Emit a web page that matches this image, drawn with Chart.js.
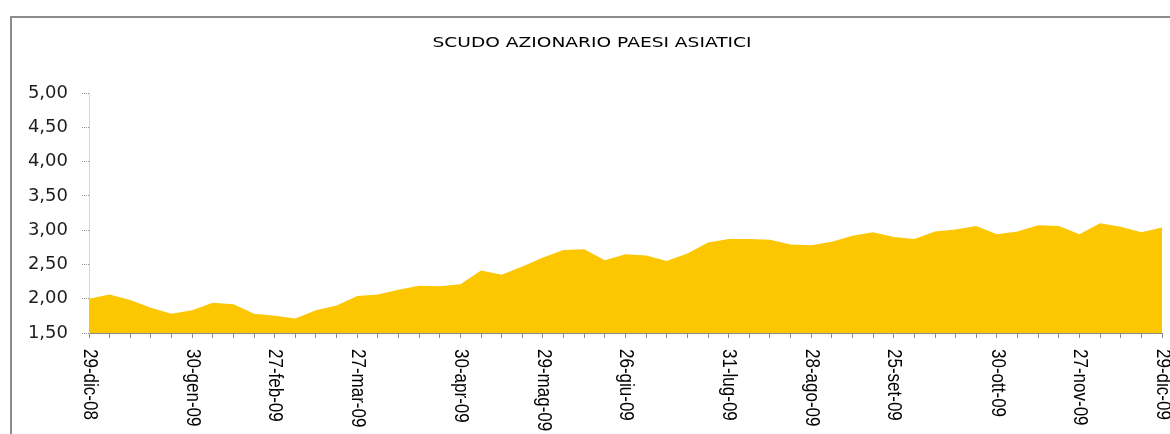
<!DOCTYPE html>
<html>
<head>
<meta charset="utf-8">
<title>Scudo azionario paesi asiatici</title>
<script src="https://cdn.jsdelivr.net/npm/chart.js@4/dist/chart.umd.min.js"></script>
<style>
    html, body { margin: 0; padding: 0; background: #fff; overflow: hidden; }
    #wrap { position: relative; width: 1170px; height: 434px; }
    #frame {
        position: absolute; left: 10px; top: 16px;
        width: 1200px; height: 500px;
        border: 2px solid #8c8c8c; box-sizing: border-box;
    }
    #fundChart { position: absolute; left: 0; top: 0; }
</style>
</head>
<body>
<div id="wrap">
    <div id="frame"></div>
    <canvas id="fundChart" width="1170" height="434"></canvas>
</div>
<script>
/* ===== DATA ===== */
const chartTitle = 'SCUDO AZIONARIO PAESI ASIATICI';

// weekly points, only month-end weeks carry a label
const categories = [
    '29-dic-08', '', '', '', '', '30-gen-09', '', '', '', '27-feb-09', '', '', '',
    '27-mar-09', '', '', '', '', '30-apr-09', '', '', '', '29-mag-09', '', '', '',
    '26-giu-09', '', '', '', '', '31-lug-09', '', '', '', '28-ago-09', '', '', '',
    '25-set-09', '', '', '', '', '30-ott-09', '', '', '', '27-nov-09', '', '', '',
    '29-dic-09'
];

const navValues = [
    2.00, 2.06, 1.98, 1.87, 1.78, 1.83, 1.94, 1.92, 1.78, 1.75, 1.71, 1.83, 1.90,
    2.04, 2.06, 2.13, 2.19, 2.18, 2.21, 2.41, 2.35, 2.47, 2.60, 2.71, 2.72, 2.56,
    2.65, 2.63, 2.55, 2.66, 2.82, 2.87, 2.87, 2.86, 2.79, 2.78, 2.83, 2.92, 2.97,
    2.90, 2.87, 2.98, 3.01, 3.06, 2.94, 2.98, 3.07, 3.06, 2.94, 3.10, 3.05, 2.97,
    3.04
];

const yMin = 1.5;
const yMax = 5.0;
const yStep = 0.5;

// ===== TITLE + ROTATED CATEGORY LABELS =====
// the original export is stretched sideways, so text gets a small scale too
const excelText = {
    id: 'excelText',
    afterDraw(chart) {
        const ctx = chart.ctx;
        const xScale = chart.scales.x;
        ctx.save();
        ctx.fillStyle = '#000';
        ctx.font = '14px "DejaVu Sans"';
        ctx.textAlign = 'center';
        ctx.textBaseline = 'middle';
        ctx.save();
        ctx.translate(592, 43);
        ctx.scale(1.33, 1);
        ctx.fillText(chartTitle, 0, 0);
        ctx.restore();

        ctx.font = '17px "Liberation Sans", Arial, sans-serif';
        ctx.textAlign = 'left';
        categories.forEach((label, i) => {
            if (!label) return;
            const px = xScale.getPixelForValue(i);
            ctx.save();
            ctx.translate(px, xScale.top + 16);
            ctx.rotate(Math.PI / 2);
            ctx.scale(1, 1.15);
            ctx.fillText(label, 0, 0);
            ctx.restore();
        });
        ctx.restore();
    }
};

// ===== CHART =====
const ctx = document.getElementById('fundChart');
new Chart(ctx.getContext('2d'), {
    type: 'line',
    data: {
        labels: categories,
        datasets: [{
            label: chartTitle,
            data: navValues,
            backgroundColor: 'rgb(252, 198, 0)',
            borderWidth: 0,
            borderColor: 'rgb(252, 198, 0)',
            fill: 'start',
            tension: 0,
            pointRadius: 0
        }]
    },
    options: {
        responsive: false,
        animation: false,
        devicePixelRatio: 1,
        layout: {
            padding: { left: 0, right: 8, top: 93, bottom: 96 }
        },
        plugins: {
            legend: { display: false },
            title: { display: false },
            tooltip: { enabled: false }
        },
        scales: {
            x: {
                type: 'category',
                offset: false,
                ticks: { display: false, autoSkip: false },
                grid: {
                    drawOnChartArea: false,
                    drawTicks: true,
                    tickLength: 5,
                    tickColor: '#8c8c8c',
                    tickWidth: 1
                },
                border: { display: true, color: '#8c8c8c', width: 1 }
            },
            y: {
                min: yMin,
                max: yMax,
                afterFit: function(scale) {
                    scale.width = 89;
                },
                ticks: {
                    stepSize: yStep,
                    padding: 14,
                    color: '#1e1e1e',
                    font: { family: 'DejaVu Sans', size: 18 },
                    callback: function(value) {
                        return value.toFixed(2).replace('.', ',');
                    }
                },
                grid: {
                    drawOnChartArea: false,
                    drawTicks: true,
                    tickLength: 7,
                    tickColor: '#909090',
                    tickBorderDash: [1, 1]
                },
                border: { display: true, color: '#d6d6d6', width: 1 }
            }
        }
    },
    plugins: [excelText]
});
</script>
</body>
</html>
